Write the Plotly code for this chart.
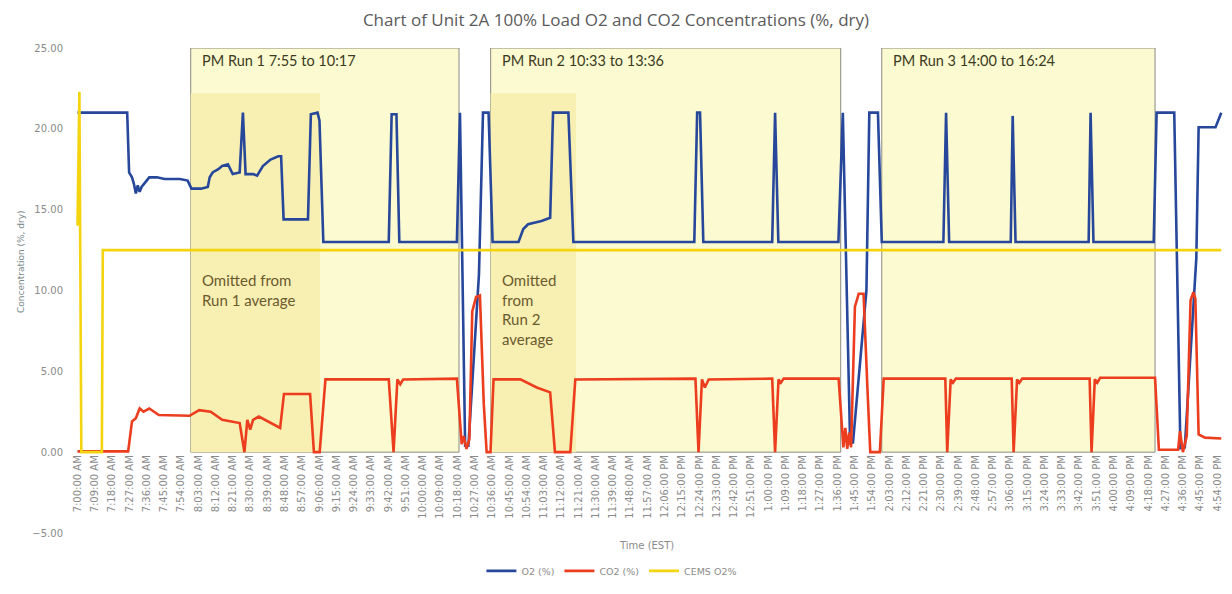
import pandas as pd
import plotly.graph_objects as go

# Minutes after 07:00 EST and readings (% dry)
o2_minutes = [0, 25.9, 26.9, 28.4, 29.4, 30.4, 31.4, 32.4, 33.4, 35.4, 37.4, 41.4, 45.4, 53.4, 57.4,
              59.4, 64.4, 67.9, 68.9, 70.4, 73.4, 75.4, 78.4, 80.9, 84.5, 86.2, 87.6, 91.6, 93.6, 96.6,
              100.6, 104.6, 106.1, 107.4, 120.1, 121.6, 125.1, 126.1, 128.1, 162.2, 163.7, 166.2, 167.7,
              197.7, 199.3, 202.0, 203.7, 209.2, 211.3, 214.2, 216.3, 229.8, 232.3, 234.8, 241.8, 246.3,
              247.8, 255.8, 258.4, 321.4, 322.9, 324.4, 326.1, 362.0, 363.5, 365.2, 396.5, 398.8, 402.6,
              404.1, 411.1, 412.6, 417.1, 419.1, 451.2, 452.6, 454.2, 486.3, 487.3, 488.8, 526.9, 527.9,
              529.4, 560.8, 562.3, 571.5, 574.7, 577.0, 583.0, 584.2, 593.0, 596.0]
o2_values = [21.0, 21.0, 17.3, 17.0, 16.6, 16.0, 16.5, 16.1, 16.4, 16.7, 17.0, 17.0, 16.9, 16.9, 16.8,
             16.3, 16.3, 16.4, 17.0, 17.3, 17.5, 17.7, 17.8, 17.2, 17.3, 21.0, 17.2, 17.2, 17.1, 17.7,
             18.1, 18.3, 18.3, 14.4, 14.4, 20.9, 21.0, 20.5, 13.0, 13.0, 20.9, 20.9, 13.0,
             13.0, 21.0, 0.4, 0.4, 11.0, 21.0, 21.0, 13.0, 13.0, 13.8, 14.1, 14.3, 14.5,
             21.0, 21.0, 13.0, 13.0, 21.0, 21.0, 13.0, 13.0, 21.0, 13.0, 13.0, 21.0, 0.55,
             0.6, 10.0, 21.0, 21.0, 13.0, 13.0, 21.0, 13.0, 13.0, 20.8, 13.0, 13.0, 21.0,
             13.0, 13.0, 21.0, 21.0, 0.25, 0.3, 12.0, 20.1, 20.1, 21.0]

co2_minutes = [0, 26.4, 28.4, 30.4, 32.4, 34.4, 37.4, 42.4, 58.4, 63.4, 69.4, 75.4, 84.5, 87.0, 88.5,
               90.0, 91.5, 94.5, 105.6, 107.6, 121.2, 123.2, 126.2, 129.2, 162.2, 164.7, 166.7, 168.2,
               169.7, 197.7, 200.2, 201.2, 202.7, 204.2, 205.7, 207.7, 209.7, 211.7, 213.2, 215.2, 216.8,
               230.8, 239.3, 246.3, 248.8, 256.8, 259.4, 322.0, 323.6, 325.4, 326.9, 328.9, 362.0, 363.5,
               365.3, 366.5, 368.0, 396.6, 399.1, 400.1, 401.1, 402.1, 403.1, 405.1, 407.1, 409.6, 411.6,
               413.1, 418.1, 420.1, 452.2, 453.2, 455.0, 456.2, 457.7, 486.8, 487.8, 489.6, 490.8, 492.3,
               527.4, 528.4, 530.1, 531.4, 532.9, 561.5, 563.5, 573.5, 574.5, 576.0, 578.0, 580.0, 581.5,
               582.5, 584.2, 587.5, 596.0]
co2_values = [0.05, 0.05, 1.9, 2.1, 2.7, 2.5, 2.7, 2.3, 2.25, 2.6, 2.5, 2.0, 1.8, 0.0, 2.0,
              1.4, 2.0, 2.2, 1.5, 3.6, 3.6, 0.0, 0.0, 4.5, 4.5, 0.0, 4.5, 4.2,
              4.5, 4.55, 0.5, 1.0, 0.2, 0.8, 8.7, 9.6, 9.7, 3.0, 0.0, 0.0, 4.5,
              4.5, 4.0, 3.7, 0.0, 0.0, 4.5, 4.55, 0.0, 4.5, 4.0, 4.5, 4.55, 0.0,
              4.5, 4.3, 4.55, 4.55, 0.3, 1.5, 0.2, 1.2, 0.3, 9.0, 9.8, 9.8, 4.0,
              0.0, 0.0, 4.55, 4.55, 0.0, 4.5, 4.3, 4.55, 4.55, 0.0, 4.5, 4.3, 4.55,
              4.55, 0.0, 4.5, 4.3, 4.6, 4.6, 0.15, 0.15, 1.3, 0.0, 1.0, 9.4, 9.9,
              9.5, 1.1, 0.9, 0.85]

cems_minutes = [0, 1.0, 2.0, 12.7, 13.2, 596.0]
cems_values = [14.0, 22.3, 0.0, 0.0, 12.5, 12.5]

# Run windows (box start, box end, omitted-period end) in minutes after 07:00
run_labels = ["PM Run 1 7:55 to 10:17", "PM Run 2 10:33 to 13:36", "PM Run 3 14:00 to 16:24"]
run_start = [59.0, 215.3, 419.1]
run_end = [198.8, 397.7, 561.5]
omit_end = [126.4, 259.8, None]
omit_labels = ["Omitted from<br>Run 1 average", "Omitted<br>from<br>Run 2<br>average", None]

base = pd.Timestamp("2020-01-01 07:00:00")


def tt(m):
    return base + pd.to_timedelta(m, unit="m")


fig = go.Figure()
fig.add_trace(go.Scatter(x=[tt(m) for m in o2_minutes], y=o2_values, mode="lines", name="O2 (%)",
                         line=dict(color="#27479b", width=2.6)))
fig.add_trace(go.Scatter(x=[tt(m) for m in co2_minutes], y=co2_values, mode="lines", name="CO2 (%)",
                         line=dict(color="#ec3d1e", width=2.6)))
fig.add_trace(go.Scatter(x=[tt(m) for m in cems_minutes], y=cems_values, mode="lines", name="CEMS O2%",
                         line=dict(color="#f4d40f", width=2.6)))

shapes = []
annotations = []
for i in range(3):
    shapes.append(dict(type="rect", xref="x", yref="y", x0=tt(run_start[i]), x1=tt(run_end[i]),
                       y0=0, y1=25, layer="below", fillcolor="#fcfad1",
                       line=dict(color="#8a8a80", width=1)))
    if omit_end[i] is not None:
        shapes.append(dict(type="rect", xref="x", yref="y", x0=tt(run_start[i]), x1=tt(omit_end[i]),
                           y0=0, y1=22.2, layer="below", fillcolor="#f8efb2", line=dict(width=0)))
        annotations.append(dict(x=tt(run_start[i] + 5.0), y=11.3, xref="x", yref="y",
                                text=omit_labels[i], showarrow=False, xanchor="left", yanchor="top",
                                align="left", font=dict(family="Lato", size=15, color="#6b5a2e")))
    annotations.append(dict(x=tt(run_start[i] + 5.0), y=24.2, xref="x", yref="y", text=run_labels[i],
                            showarrow=False, xanchor="left", yanchor="middle",
                            font=dict(family="Lato", size=14.5, color="#3b3a22")))

annotations.append(dict(x=-0.042, y=0.56, xref="paper", yref="paper", xanchor="center", yanchor="middle",
                        text="Concentration (%, dry)", showarrow=False, textangle=-90,
                        font=dict(family="DejaVu Sans", size=9, color="#7a8a8a")))
annotations.append(dict(x=0.5, y=-0.025, xref="paper", yref="paper", xanchor="center", yanchor="middle",
                        text="Time (EST)", showarrow=False,
                        font=dict(family="DejaVu Sans", size=10, color="#8a8a8a")))

# The page adds an 8px body margin, so the figure is sized to fill the 1232x594 window exactly.
fig.update_layout(
    width=1216, height=578,
    margin=dict(l=62, r=1, t=40, b=51),
    paper_bgcolor="white", plot_bgcolor="white",
    title=dict(text="Chart of Unit 2A 100% Load O2 and CO2 Concentrations (%, dry)",
               x=0.5, xref="container", xanchor="center", y=1 - 12 / 578, yanchor="middle",
               font=dict(family="Open Sans", size=17, color="#5a5a5a")),
    showlegend=True,
    legend=dict(orientation="h", x=0.47, xanchor="center", y=-0.078, yanchor="middle",
                font=dict(family="DejaVu Sans", size=9.5, color="#8a8a8a"), itemwidth=30),
    shapes=shapes, annotations=annotations,
    font=dict(family="DejaVu Sans"),
)
fig.update_xaxes(type="date", range=[tt(-3.9), tt(596.9)], tick0=tt(0), dtick=9 * 60 * 1000,
                 tickformat="%-I:%M:%S %p", tickangle=-90, showgrid=False, zeroline=False, showline=False,
                 anchor="free", position=5 / 30, automargin=False,
                 tickfont=dict(family="DejaVu Sans", size=10, color="#8a8a8a"))
fig.update_yaxes(range=[-5, 25], dtick=5, tickformat=".2f", showgrid=False, zeroline=False, showline=False,
                 automargin=False, ticklabelstandoff=6,
                 tickfont=dict(family="DejaVu Sans", size=10, color="#8a8a8a"))

fig.write_html("out.html")
